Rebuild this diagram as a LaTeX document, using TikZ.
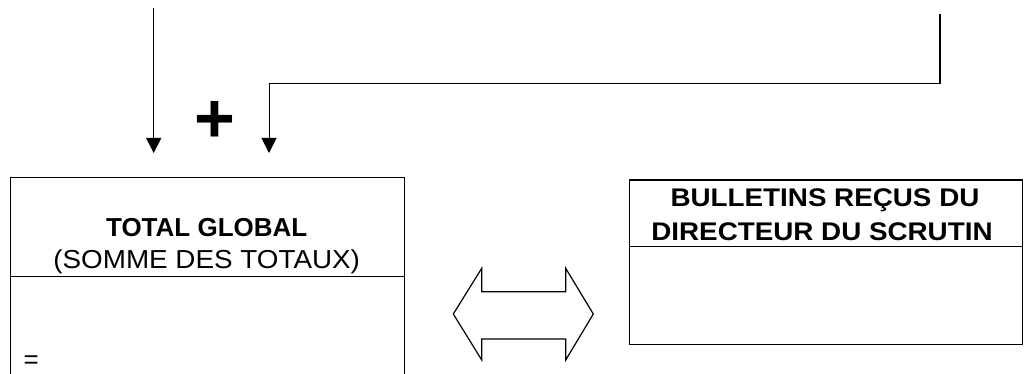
\documentclass[tikz,border=0pt]{standalone}
\usepackage{fontspec}
\setmainfont{Liberation Sans}
\usepackage{tikz}
\usetikzlibrary{arrows.meta}

\begin{document}
\begin{tikzpicture}[x=1pt,y=-1pt,line width=1pt,
		fleche/.style={-{Triangle[length=15pt,width=15pt]}},
		grand/.style={font=\fontsize{26}{30}\selectfont,inner sep=0pt,anchor=base},
		moyen/.style={font=\fontsize{25.5}{28}\selectfont\bfseries,inner sep=0pt,anchor=base}]
			\useasboundingbox (0,0) rectangle (1035,374);
			% fleches du haut
			\coordinate (d1) at (153.7,8);
			\coordinate (f1) at (153.7,153);
			\coordinate (d2) at (940,14);
			\coordinate (c2) at (940,84);
			\coordinate (f2) at (269,153);
			\draw[fleche] (d1) -- (f1);
			\draw[line width=2pt] (d2) -- (c2);
			\draw[fleche] (c2) -| (f2);
			\node[font=\fontsize{70}{70}\selectfont\bfseries,inner sep=0pt,anchor=base] (plus) at (214.5,143) {+};
			% total global
			\draw (10.5,374) -- (10.5,178) -- (404,178) -- (404,374);
			\draw (10.5,276.5) -- (404,276.5);
			\node[grand,font=\fontsize{26}{30}\selectfont\bfseries] (tg) at (206.7,236.7) {TOTAL GLOBAL};
			\node[grand] (st) at (206.7,268) {\scalebox{1.07}[1]{(SOMME DES TOTAUX)}};
			\node[grand,anchor=base west] (egal) at (23,368) {=};
			% double fleche
			\draw[line width=1.2pt] (453.3,314) -- (481.7,268.3) -- (481.7,291.7) -- (565.7,291.7) -- (565.7,268.3)
				-- (593.3,314) -- (565.7,360) -- (565.7,339) -- (481.7,339) -- (481.7,360) -- cycle;
			% bulletins
			\draw[line width=1.5pt] (629.3,180) rectangle (1022.5,344.3);
			\draw[line width=1.3pt] (629.3,246.5) -- (1022.5,246.5);
			\node[moyen] (b1) at (825,206.7) {\scalebox{1.09}[1]{BULLETINS REÇUS DU}};
			\node[moyen] (b2) at (822,240) {\scalebox{1.09}[1]{DIRECTEUR DU SCRUTIN}};
		\end{tikzpicture}
\end{document}
